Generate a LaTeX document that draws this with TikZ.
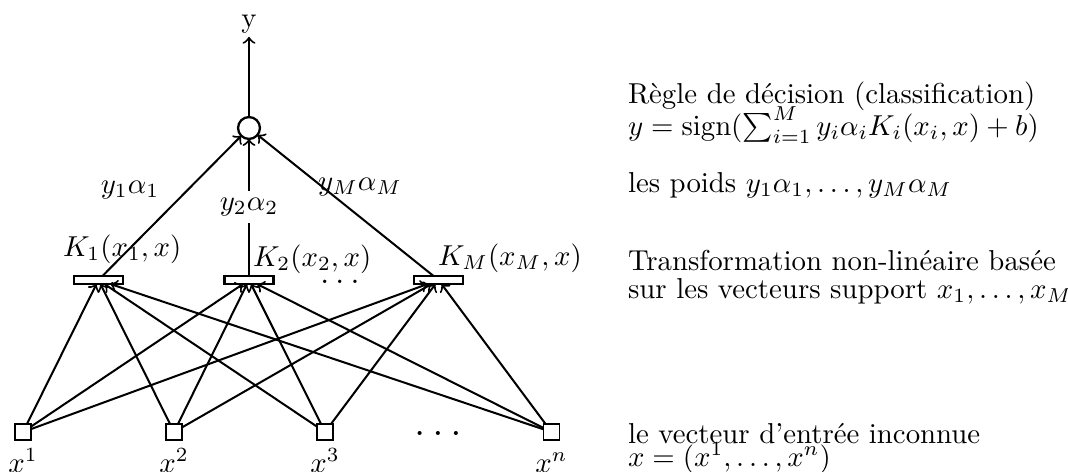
\documentclass[tikz,border=0pt]{standalone}
\begin{document}
\begin{tikzpicture}[x=0.3472pt,y=-0.3472pt,
  every node/.style={inner sep=0pt, outer sep=0pt},
  conn/.style={->, line width=0.7pt},
  kbox/.style={draw, line width=0.8pt, rectangle, minimum width=17pt, minimum height=2.8pt, fill=white},
  inbox/.style={draw, line width=0.5pt, rectangle, minimum size=5.6pt, fill=white},
  sumnode/.style={draw, circle, line width=0.8pt, minimum size=7.6pt},
  lbl/.style={anchor=base west},
  clbl/.style={anchor=base},
]
\useasboundingbox (0,0) rectangle (1068,471);

% output
\node[clbl, inner sep=1pt] (ylab) at (249,28) {y};
\node[sumnode] (sum) at (249,128) {};

% kernel boxes
\node[kbox] (k1) at (98.5,280) {};
\node[kbox] (k2) at (249,280) {};
\node[kbox] (kM) at (438.5,280) {};

% kernel labels
\node[lbl] (lk1) at (63,256) {$K_1(x_1,x)$};
\node[lbl] (lk2) at (253,266) {$K_2(x_2,x)$};
\node[lbl] (lkM) at (438,265) {$K_M(x_M,x)$};
\node[clbl] (kdots) at (340,283) {\large$\ldots$};

% inputs
\node[inbox] (i1) at (23,432) {};
\node[inbox] (i2) at (174,432) {};
\node[inbox] (i3) at (325,432) {};
\node[inbox] (in) at (551.5,432) {};
\node[clbl] (idots) at (438,435) {\fontsize{13.3}{16}\selectfont$\ldots$};
\node[clbl] (li1) at (23,472) {$x^1$};
\node[clbl] (li2) at (174,472) {$x^2$};
\node[clbl] (li3) at (325,472) {$x^3$};
\node[clbl] (lin) at (551.5,472) {$x^n$};

% connections
\foreach \i in {i1,i2,i3,in}
  \foreach \k in {k1,k2,kM}
    \draw[conn] (\i) -- (\k);
\draw[conn] (k1) -- (sum);
\draw[conn] (k2) -- (sum);
\draw[conn] (kM) -- (sum);
\draw[conn] (sum) -- (ylab);

% weight labels
\node[clbl] (w1) at (130,193) {$y_1\alpha_1$};
\node[fill=white, inner sep=2.5pt] (w2) at (249,207) {$y_2\alpha_2$};
\node[clbl] (wM) at (360,190) {$y_M\alpha_M$};

% right-hand text
\node[lbl] (t1) at (628,103) {Règle de décision (classification)};
\node[lbl] (t2) at (628,135) {$y=\mathrm{sign}(\sum_{i=1}^{M} y_i\alpha_i K_i(x_i,x)+b)$};
\node[lbl] (t3) at (628,192) {les poids $y_1\alpha_1,\ldots,y_M\alpha_M$};
\node[lbl] (t4) at (628,270) {Transformation non-linéaire basée};
\node[lbl] (t5) at (628,298) {sur les vecteurs support $x_1,\ldots,x_M$};
\node[lbl] (t6) at (628,443) {le vecteur d’entrée inconnue};
\node[lbl] (t7) at (628,466) {$x=(x^1,\ldots,x^n)$};
\end{tikzpicture}
\end{document}
